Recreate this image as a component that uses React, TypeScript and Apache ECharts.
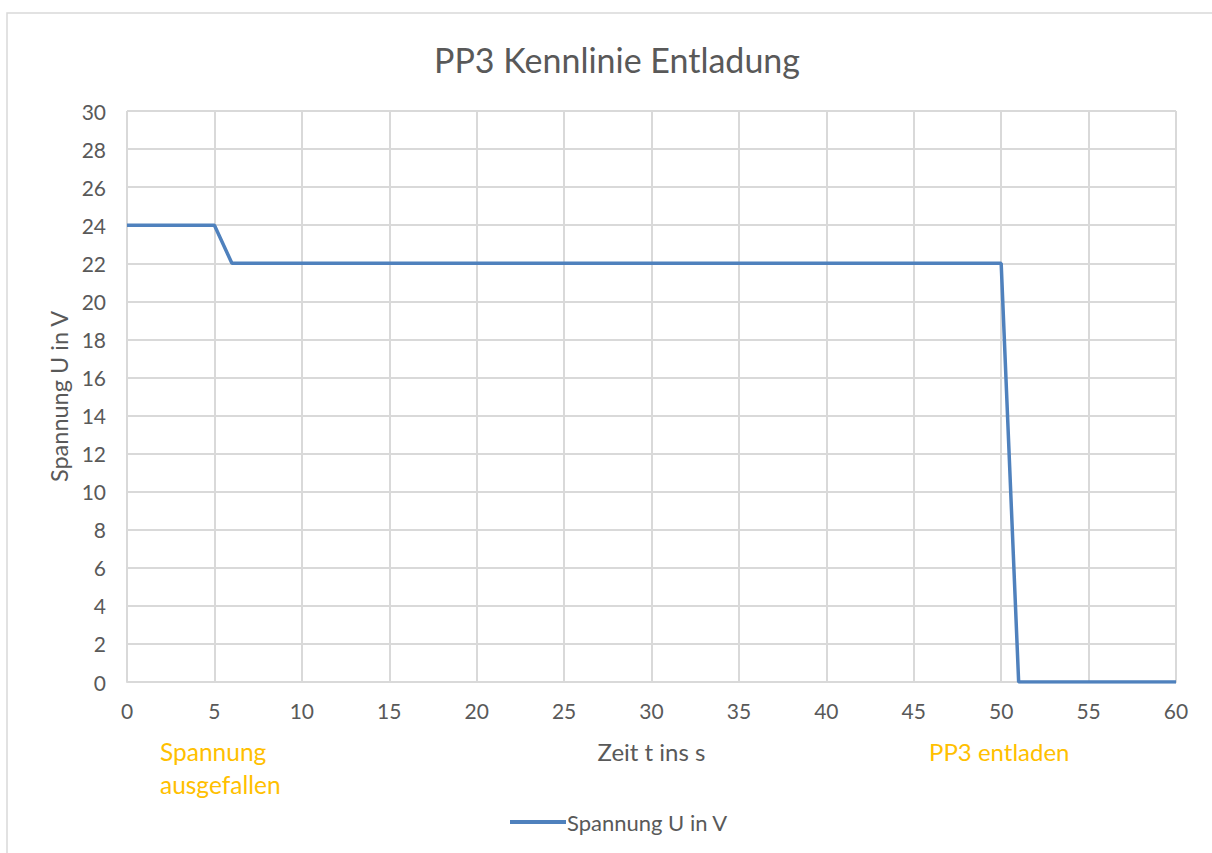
import React, { useEffect, useRef } from "react";
import * as echarts from "echarts";

const times = [0, 5, 6, 50, 51, 60];
const voltages = [24, 24, 22, 22, 0, 0];
const seriesName = "Spannung U in V";
const titleText = "PP3 Kennlinie Entladung";
const xName = "Zeit t ins s";
const yName = "Spannung U in V";
const note1 = "Spannung\nausgefallen";
const note2 = "PP3 entladen";

const FONT = "Lato, 'Open Sans', sans-serif";

export default function App() {
  const ref = useRef<HTMLDivElement>(null);
  useEffect(() => {
    const chart = echarts.init(ref.current!, null, { renderer: "svg" });
    chart.setOption({
      animation: false,
      backgroundColor: "#ffffff",
      textStyle: { fontFamily: FONT },
      title: {
        text: titleText,
        left: 612,
        top: 37,
        textAlign: "center",
        textStyle: { fontSize: 34, fontWeight: "normal", color: "#595959", fontFamily: FONT },
      },
      grid: { left: 127, right: 36, top: 111, bottom: 171, containLabel: false },
      xAxis: {
        type: "value",
        min: 0,
        max: 60,
        interval: 5,
        name: xName,
        nameLocation: "middle",
        nameGap: 57,
        nameTextStyle: { fontSize: 24, color: "#595959", fontFamily: FONT },
        axisLine: { show: true, lineStyle: { color: "#d9d9d9", width: 2 } },
        axisTick: { show: false },
        axisLabel: { fontSize: 21, color: "#595959", margin: 18, fontFamily: FONT },
        splitLine: { show: true, lineStyle: { color: "#d9d9d9", width: 2 } },
      },
      yAxis: {
        type: "value",
        min: 0,
        max: 30,
        interval: 2,
        name: yName,
        nameLocation: "middle",
        nameGap: 55,
        nameRotate: 90,
        nameTextStyle: { fontSize: 23.5, color: "#595959", fontFamily: FONT },
        axisLine: { show: false },
        axisTick: { show: false },
        axisLabel: { fontSize: 21, color: "#595959", margin: 21, fontFamily: FONT },
        splitLine: { show: true, lineStyle: { color: "#d9d9d9", width: 2 } },
      },
      legend: {
        left: 505,
        top: 806,
        icon: "rect",
        itemWidth: 56,
        itemHeight: 4,
        itemGap: 4,
        textStyle: { fontSize: 22, color: "#595959", fontFamily: FONT, padding: [0, 0, 0, -4] },
        data: [seriesName],
      },
      series: [
        {
          name: seriesName,
          type: "line",
          data: times.map((t, i) => [t, voltages[i]]),
          showSymbol: false,
          symbol: "none",
          lineStyle: { color: "#4f81bd", width: 3.5 },
          itemStyle: { color: "#4f81bd" },
        },
      ],
      graphic: [
        {
          type: "rect",
          shape: { x: 7, y: 13, width: 1220, height: 860 },
          style: { fill: "none", stroke: "#d9d9d9", lineWidth: 1.5 },
          z: -1,
        },
        {
          type: "text",
          left: 160,
          top: 735,
          style: { text: note1, fontSize: 24.5, fill: "#ffc000", fontFamily: FONT, lineHeight: 33 },
        },
        {
          type: "text",
          left: 929,
          top: 735,
          style: { text: note2, fontSize: 24, fill: "#ffc000", fontFamily: FONT, lineHeight: 33 },
        },
      ],
    });
    return () => chart.dispose();
  }, []);
  return (
    <div
      ref={ref}
      style={{ position: "fixed", left: 0, top: 0, width: 1212, height: 853 }}
    />
  );
}
